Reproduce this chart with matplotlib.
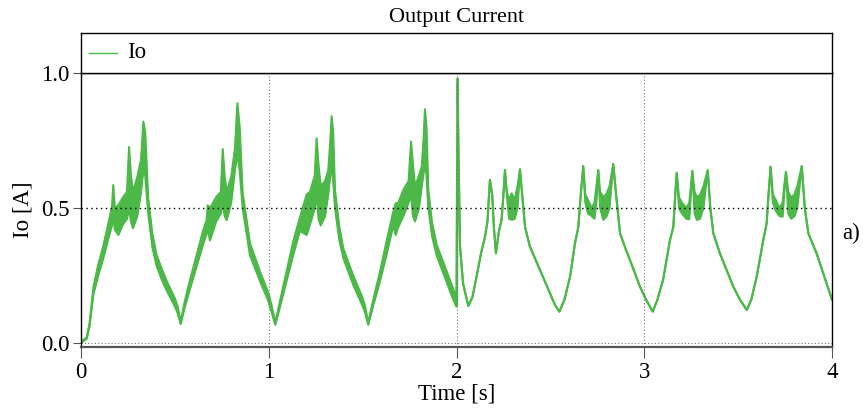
import matplotlib.pyplot as plt
import numpy as np

# time [s], lower and upper envelope of the output current band [A]
t_io = [0.000, 0.010, 0.030, 0.045, 0.066, 0.090, 0.119, 0.145, 0.165, 0.172,
        0.180, 0.199, 0.224, 0.245, 0.256, 0.266, 0.277, 0.300, 0.320, 0.332,
        0.342, 0.358, 0.380, 0.403, 0.430, 0.456, 0.500, 0.515, 0.531, 0.550,
        0.572, 0.616, 0.650, 0.669, 0.675, 0.687, 0.720, 0.745, 0.755, 0.765,
        0.776, 0.800, 0.820, 0.833, 0.845, 0.861, 0.900, 0.953, 0.998, 1.015,
        1.035, 1.060, 1.095, 1.130, 1.166, 1.202, 1.220, 1.245, 1.255, 1.265,
        1.277, 1.300, 1.317, 1.328, 1.335, 1.343, 1.353, 1.375, 1.397, 1.450,
        1.495, 1.512, 1.530, 1.555, 1.593, 1.630, 1.663, 1.676, 1.690, 1.717,
        1.745, 1.758, 1.768, 1.779, 1.800, 1.815, 1.825, 1.832, 1.840, 1.850,
        1.870, 1.894, 1.948, 1.980, 1.999, 2.003, 2.006, 2.010, 2.019, 2.035,
        2.063, 2.085, 2.107, 2.130, 2.152, 2.165, 2.178, 2.190, 2.200, 2.210,
        2.225, 2.240, 2.250, 2.258, 2.268, 2.280, 2.294, 2.310, 2.325, 2.338,
        2.350, 2.365, 2.391, 2.445, 2.498, 2.525, 2.548, 2.575, 2.605, 2.631,
        2.649, 2.662, 2.675, 2.686, 2.700, 2.720, 2.735, 2.745, 2.755, 2.765,
        2.782, 2.800, 2.815, 2.835, 2.850, 2.871, 2.900, 2.924, 2.977, 3.010,
        3.045, 3.070, 3.100, 3.137, 3.155, 3.165, 3.173, 3.185, 3.200, 3.225,
        3.240, 3.248, 3.256, 3.268, 3.280, 3.297, 3.315, 3.338, 3.352, 3.368,
        3.403, 3.474, 3.510, 3.546, 3.570, 3.599, 3.634, 3.652, 3.662, 3.673,
        3.685, 3.700, 3.720, 3.737, 3.745, 3.755, 3.767, 3.782, 3.800, 3.815,
        3.839, 3.855, 3.874, 3.918, 3.971, 4.000]

io_lo = [0.000, 0.005, 0.015, 0.060, 0.180, 0.245, 0.315, 0.385, 0.435, 0.470,
         0.420, 0.400, 0.440, 0.460, 0.500, 0.450, 0.425, 0.470, 0.560, 0.640,
         0.620, 0.480, 0.355, 0.285, 0.235, 0.195, 0.135, 0.110, 0.070, 0.125,
         0.180, 0.285, 0.365, 0.405, 0.420, 0.380, 0.450, 0.480, 0.520, 0.470,
         0.455, 0.520, 0.640, 0.700, 0.640, 0.500, 0.325, 0.230, 0.155, 0.115,
         0.067, 0.135, 0.230, 0.325, 0.415, 0.400, 0.440, 0.500, 0.550, 0.460,
         0.435, 0.470, 0.550, 0.620, 0.660, 0.600, 0.500, 0.385, 0.315, 0.215,
         0.145, 0.115, 0.067, 0.135, 0.230, 0.335, 0.435, 0.400, 0.430, 0.470,
         0.520, 0.550, 0.470, 0.450, 0.500, 0.580, 0.630, 0.680, 0.620, 0.500,
         0.395, 0.325, 0.225, 0.165, 0.135, 0.140, 0.960, 0.700, 0.350, 0.220,
         0.137, 0.170, 0.246, 0.330, 0.394, 0.450, 0.604, 0.550, 0.420, 0.332,
         0.410, 0.456, 0.550, 0.640, 0.550, 0.460, 0.456, 0.460, 0.500, 0.643,
         0.550, 0.430, 0.357, 0.270, 0.184, 0.140, 0.116, 0.160, 0.246, 0.369,
         0.430, 0.550, 0.655, 0.520, 0.480, 0.470, 0.460, 0.520, 0.640, 0.500,
         0.456, 0.470, 0.500, 0.663, 0.550, 0.406, 0.350, 0.307, 0.209, 0.160,
         0.116, 0.160, 0.233, 0.381, 0.430, 0.550, 0.630, 0.500, 0.480, 0.460,
         0.458, 0.550, 0.637, 0.480, 0.456, 0.460, 0.500, 0.640, 0.500, 0.406,
         0.332, 0.209, 0.160, 0.122, 0.160, 0.246, 0.381, 0.443, 0.550, 0.653,
         0.520, 0.490, 0.470, 0.468, 0.550, 0.634, 0.480, 0.460, 0.470, 0.500,
         0.655, 0.500, 0.406, 0.332, 0.221, 0.160]

io_hi = [0.005, 0.010, 0.020, 0.070, 0.205, 0.285, 0.360, 0.440, 0.505, 0.585,
         0.500, 0.510, 0.540, 0.560, 0.726, 0.620, 0.560, 0.615, 0.680, 0.820,
         0.780, 0.535, 0.405, 0.325, 0.275, 0.230, 0.165, 0.135, 0.078, 0.145,
         0.210, 0.325, 0.415, 0.455, 0.510, 0.500, 0.540, 0.560, 0.718, 0.620,
         0.560, 0.615, 0.720, 0.888, 0.800, 0.555, 0.370, 0.265, 0.185, 0.140,
         0.075, 0.155, 0.265, 0.375, 0.465, 0.550, 0.560, 0.620, 0.758, 0.660,
         0.580, 0.600, 0.640, 0.750, 0.840, 0.780, 0.565, 0.435, 0.350, 0.250,
         0.175, 0.140, 0.075, 0.155, 0.265, 0.385, 0.485, 0.517, 0.520, 0.567,
         0.600, 0.746, 0.660, 0.580, 0.620, 0.653, 0.760, 0.866, 0.800, 0.565,
         0.445, 0.365, 0.265, 0.205, 0.170, 0.600, 0.980, 0.750, 0.360, 0.220,
         0.137, 0.170, 0.246, 0.330, 0.394, 0.450, 0.604, 0.550, 0.420, 0.332,
         0.410, 0.456, 0.550, 0.640, 0.560, 0.530, 0.554, 0.530, 0.580, 0.643,
         0.550, 0.430, 0.357, 0.270, 0.184, 0.140, 0.116, 0.160, 0.246, 0.369,
         0.430, 0.550, 0.655, 0.550, 0.530, 0.500, 0.520, 0.580, 0.640, 0.560,
         0.540, 0.554, 0.580, 0.663, 0.550, 0.406, 0.350, 0.307, 0.209, 0.160,
         0.116, 0.160, 0.233, 0.381, 0.430, 0.550, 0.630, 0.540, 0.520, 0.500,
         0.520, 0.580, 0.637, 0.560, 0.540, 0.548, 0.580, 0.640, 0.500, 0.406,
         0.332, 0.209, 0.160, 0.122, 0.160, 0.246, 0.381, 0.443, 0.550, 0.653,
         0.550, 0.530, 0.500, 0.520, 0.580, 0.634, 0.560, 0.540, 0.550, 0.580,
         0.655, 0.500, 0.406, 0.332, 0.221, 0.160]

x_ticks = [0, 1, 2, 3, 4]
y_ticks = [0.0, 0.5, 1.0]
y_tick_labels = ['0.0', '0.5', '1.0']

green = '#4cb848'
plt.rcParams['font.family'] = ['Liberation Serif', 'DejaVu Serif']

fig = plt.figure(figsize=(8.63, 4.13), dpi=100)
W, H = 863, 413
left, right = 81 / W, 832 / W
ax = fig.add_axes([left, 1 - 347 / H, right - left, (347 - 73) / H])
leg_ax = fig.add_axes([left, 1 - 73 / H, right - left, 40 / H])

t = np.array(t_io)
lo = np.array(io_lo)
hi = np.array(io_hi)
ax.fill_between(t, lo, hi, color=green, lw=0)
ax.plot(t, lo, color=green, lw=1.5)
ax.plot(t, hi, color=green, lw=1.5)

ax.set_xlim(0, 4)
ax.set_ylim(-0.015, 1.0)
ax.set_xticks(x_ticks)
ax.set_yticks(y_ticks)
ax.set_yticklabels(y_tick_labels)
ax.tick_params(axis='both', labelsize=16.5, direction='out', color='#555555')
ax.tick_params(axis='x', length=8, pad=3)
ax.tick_params(axis='y', length=6, pad=2)

# grid lines
for xv in [1, 2, 3]:
    ax.axvline(xv, color='#777777', lw=0.8, ls=(0, (1, 2)))
ax.axhline(0.0, color='#777777', lw=0.8, ls=(0, (1, 2)))
ax.axhline(0.5, color='black', lw=1.0, ls=(0, (1, 2.5)))

for s in ['left', 'right', 'top']:
    ax.spines[s].set_color('black')
    ax.spines[s].set_linewidth(1.0)
ax.spines['bottom'].set_color('#555555')
ax.spines['bottom'].set_linewidth(1.6)

ax.set_xlabel('Time [s]', fontsize=16.5, labelpad=0)
ax.set_ylabel('Io [A]', fontsize=16.5, labelpad=6)

# legend box above the plot
leg_ax.set_xlim(0, 1)
leg_ax.set_ylim(0, 1)
leg_ax.set_xticks([])
leg_ax.set_yticks([])
for s in leg_ax.spines.values():
    s.set_color('black')
    s.set_linewidth(1.0)
leg_ax.plot([8 / 751, 36 / 751], [0.5, 0.5], color=green, lw=1.0)
leg_ax.text(46 / 751, 0.5, 'Io', fontsize=16.5, va='center', ha='left')
leg_ax.set_title('Output Current', fontsize=16, pad=8)

fig.text(842 / W, 1 - 233 / H, 'a)', fontsize=16.5, va='center', ha='left')

fig.savefig('out.png', dpi=100)
